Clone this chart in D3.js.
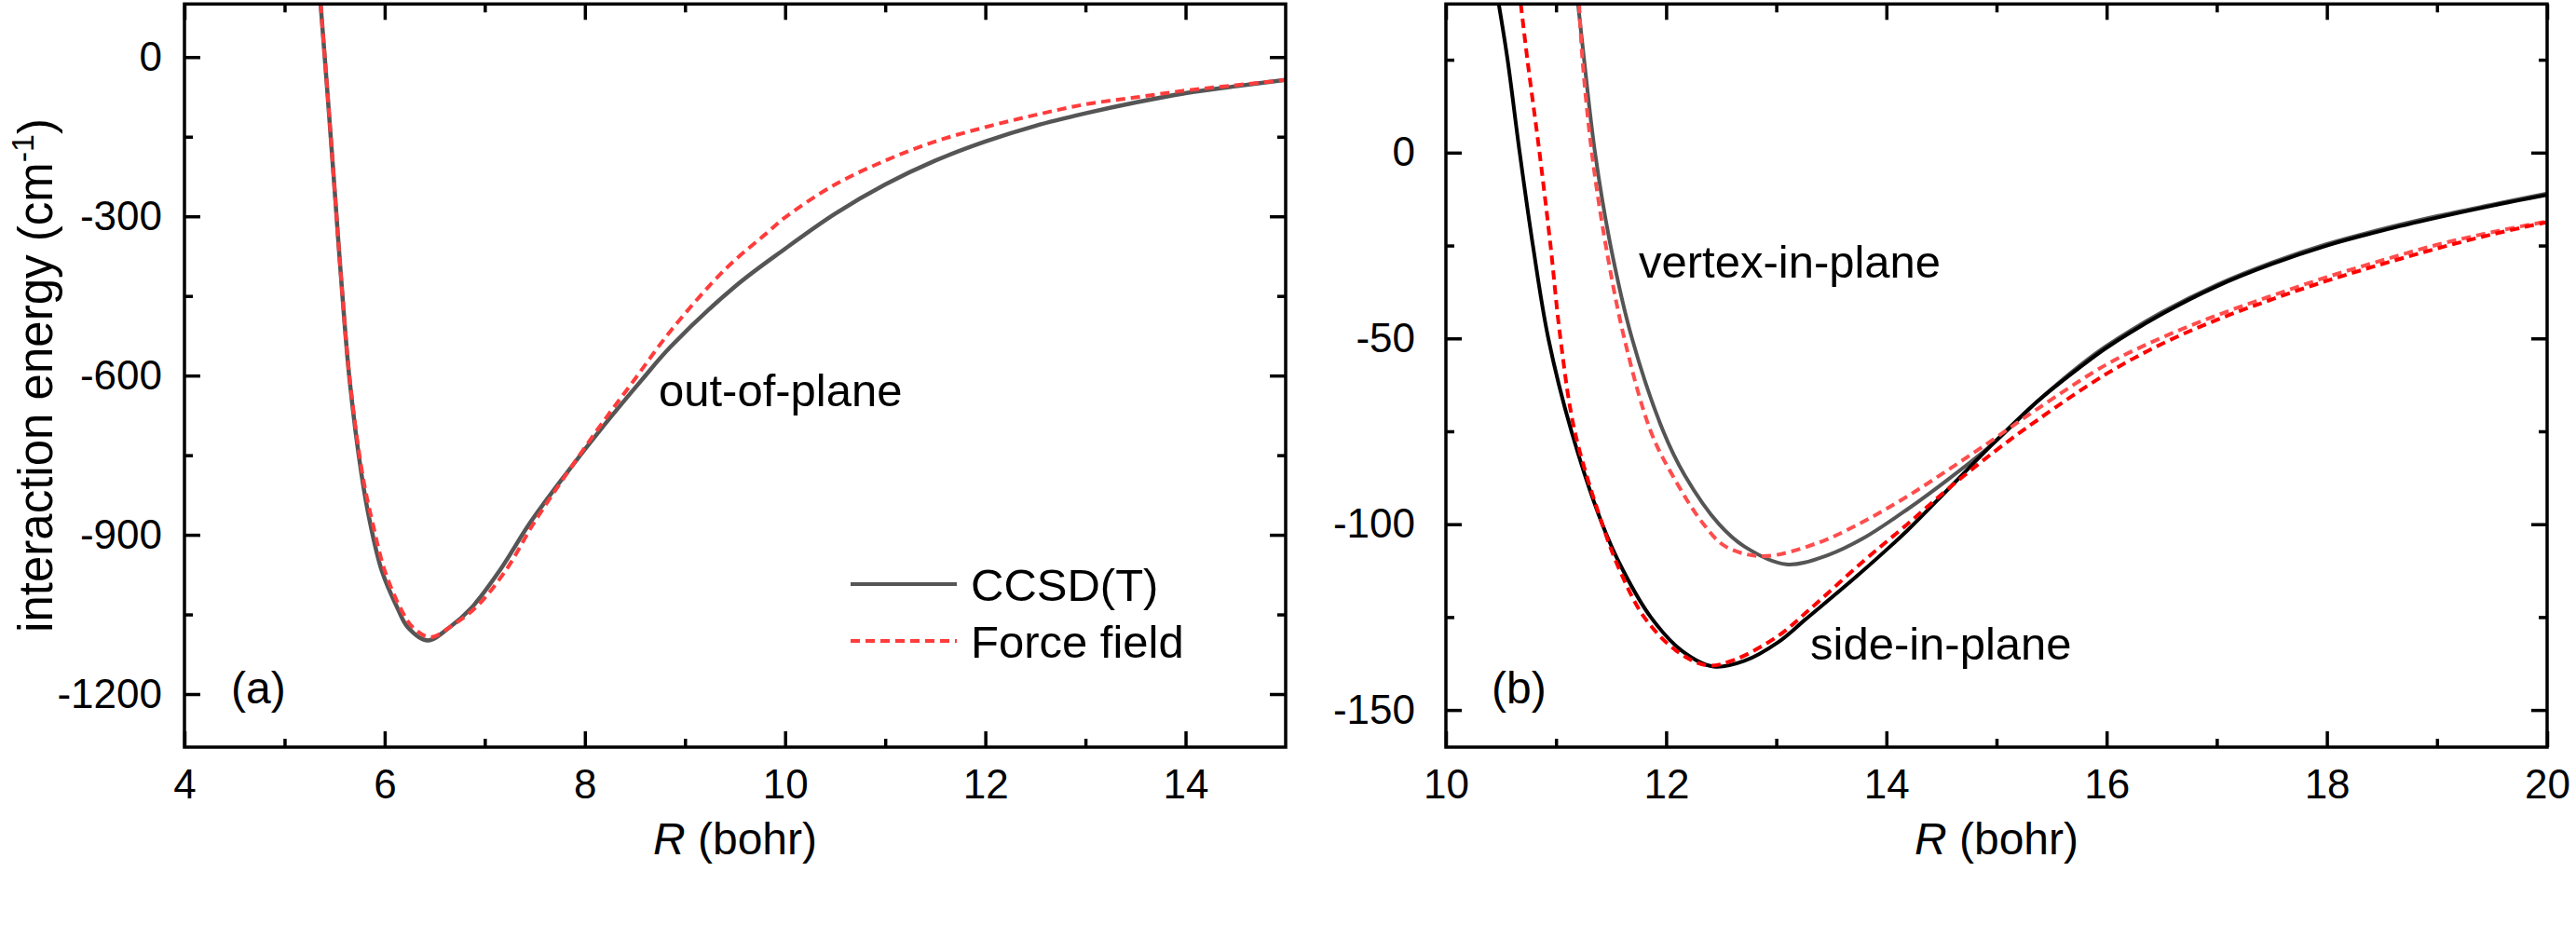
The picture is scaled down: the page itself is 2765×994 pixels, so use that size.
<!DOCTYPE html>
<html>
<head>
<meta charset="utf-8">
<script src="https://cdn.jsdelivr.net/npm/d3@7"></script>
<style>
  html, body { margin:0; padding:0; background:#fff; }
  svg { display:block; font-family:"Liberation Sans", Arial, sans-serif; }
</style>
</head>
<body>
<div id="chart"></div>
<script>

//////////////////////////////////////////////////////
// DATA  (R in bohr, energy in cm-1)
//////////////////////////////////////////////////////

// (a) out-of-plane
const outR_cc = [5.36,5.43,5.50,5.57,5.65,5.77,5.855,5.97,6.13,6.23,6.43,6.65,6.86,7.15,7.45,7.80,8.19,8.56,8.86,9.5,10.0,10.5,11,11.5,12,12.5,13,13.5,14,14.5,15];
const outE_cc = [100,-71.5,-250,-430,-609,-788,-878,-967,-1039,-1074,-1099,-1074,-1039,-967,-878,-788,-694,-610,-545,-432,-361,-295,-240,-195,-159,-129.5,-106,-85.6,-68,-55,-43];

const outR_ff = [5.36,5.43,5.50,5.57,5.65,5.78,5.88,6.0,6.16,6.28,6.46,6.68,6.92,7.21,7.49,7.80,8.14,8.49,8.86,9.4,9.82,10,10.5,11,11.5,12,12.5,13,13.5,14,14.5,15];
const outE_ff = [100,-70,-250,-430,-605,-788,-878,-967,-1039,-1074,-1093,-1070,-1035,-967,-878,-790,-698,-609,-515,-400,-331,-302,-240,-195,-159,-132,-109,-89,-76,-63,-53,-43];

// (b) side-in-plane
const sideR_cc = [10.48,10.56,10.67,10.79,10.93,11.14,11.42,11.61,11.86,12.14,12.43,12.71,13.02,13.27,13.75,14.19,14.58,14.98,15.37,15.77,16.0,16.5,17.0,17.5,18.0,18.5,19.0,19.5,20.0];
const sideE_cc = [40,25,0,-25,-50,-75,-100,-112.5,-125,-134,-138.3,-136.8,-131.7,-125.5,-113.5,-101.7,-90,-78,-67,-57.5,-52.5,-43.5,-36,-30,-25,-21,-17.5,-14.3,-11.4];

const sideR_ff = [10.68,10.74,10.85,10.95,11.04,11.17,11.42,11.58,11.80,12.09,12.37,12.62,13.02,13.30,13.79,14.19,14.58,14.98,15.37,16.0,16.5,17.0,17.5,18.0,18.5,19.0,19.5,20.0];
const sideE_ff = [40,25,0,-25,-50,-75,-100,-112.5,-125,-134,-138,-136.5,-130,-123,-110,-100,-90,-80.5,-72,-59.5,-51.5,-45,-39.5,-34.5,-30,-25.8,-22,-18.7];

// (b) vertex-in-plane
const vertR_cc = [11.20,11.255,11.354,11.495,11.69,11.974,12.17,12.48,12.71,13.09,13.47,13.79,14.19,14.58,14.98,15.37,15.77,16.0,16.5,17.0,17.5,18.0,18.5,19.0,19.5,20.0];
const vertE_cc = [40,25,0,-25,-50,-75,-86.9,-100,-106,-110.8,-108.3,-103.8,-96,-87.5,-78,-67,-57,-52,-43,-35.6,-29.6,-24.6,-20.6,-17.1,-14,-11];

const vertR_ff = [11.21,11.24,11.325,11.452,11.62,11.86,12.06,12.34,12.54,12.88,13.38,13.81,14.19,14.58,14.98,15.37,16.0,16.5,17.0,17.5,18.0,18.5,19.0,19.5,20.0];
const vertE_ff = [40,25,0,-25,-50,-75,-87,-100,-106,-108.6,-105,-99,-92.5,-85,-77,-69,-57,-49.8,-43.8,-38.5,-33.5,-29,-24.8,-21.4,-18.5];

// ticks
const aXMajor = [4,6,8,10,12,14];
const aXMinor = [5,7,9,11,13];
const aYMajor = [0,-300,-600,-900,-1200];
const aYMinor = [-150,-450,-750,-1050];

const bXMajor = [10,12,14,16,18,20];
const bXMinor = [11,13,15,17,19];
const bYMajor = [0,-50,-100,-150];
const bYMinor = [25,-25,-75,-125];

const legendNames = ["CCSD(T)", "Force field"];

//////////////////////////////////////////////////////
// SETUP
//////////////////////////////////////////////////////

const width = 2765;
const height = 994;

const svg = d3.select("#chart")
    .append("svg")
    .attr("width", width)
    .attr("height", height);

svg.append("rect").attr("width",width).attr("height",height).attr("fill","#fff");

const toPts = (rs, es) => rs.map((r,i) => [r, es[i]]);

const GRAY = "#555555";
const RED_A = "#ff3c3c";

//////////////////////////////////////////////////////
// PANEL
//////////////////////////////////////////////////////

function drawPanel(p){

    const x = d3.scaleLinear().domain(p.xDomain).range([p.left, p.right]);
    const y = d3.scaleLinear().domain(p.yDomain).range([p.bottom, p.top]);

    const g = svg.append("g");

    const clipId = "clip-" + p.id;
    svg.append("clipPath").attr("id", clipId)
        .append("rect")
        .attr("x", p.left).attr("y", p.top)
        .attr("width", p.right-p.left).attr("height", p.bottom-p.top);

    // curves
    const line = d3.line()
        .x(d => x(d[0]))
        .y(d => y(d[1]))
        .curve(d3.curveCatmullRom.alpha(0.5));

    const lines = g.append("g").attr("clip-path", `url(#${clipId})`);

    p.series.forEach(s => {
        lines.append("path")
            .datum(s.pts)
            .attr("d", line)
            .attr("fill","none")
            .attr("stroke", s.color)
            .attr("stroke-width", s.w)
            .attr("stroke-dasharray", s.dash || null);
    });

    // axes
    const fmt = d => String(d);

    function axis(fn, scale, values, size, pad, labels, tr){
        const ax = fn(scale)
            .tickValues(values)
            .tickSizeInner(-size)
            .tickSizeOuter(0)
            .tickPadding(pad)
            .tickFormat(labels ? fmt : () => "");
        const a = g.append("g").attr("transform", tr).call(ax);
        a.select(".domain").remove();
        a.selectAll("line").attr("stroke","#000").attr("stroke-width",3.5);
        a.selectAll("text")
            .attr("fill","#000")
            .style("font-family",'"Liberation Sans", Arial, sans-serif')
            .style("font-size","44px");
    }

    axis(d3.axisBottom, x, p.xMajor, 17, 24, true,  `translate(0,${p.bottom})`);
    axis(d3.axisBottom, x, p.xMinor, 9, 24, false,  `translate(0,${p.bottom})`);
    axis(d3.axisTop,    x, p.xMajor, 17, 24, false, `translate(0,${p.top})`);
    axis(d3.axisTop,    x, p.xMinor, 9, 24, false,  `translate(0,${p.top})`);
    axis(d3.axisLeft,   y, p.yMajor, 17, p.yPad, true,  `translate(${p.left},0)`);
    axis(d3.axisLeft,   y, p.yMinor, 9, p.yPad, false,  `translate(${p.left},0)`);
    axis(d3.axisRight,  y, p.yMajor, 17, 24, false, `translate(${p.right},0)`);
    axis(d3.axisRight,  y, p.yMinor, 9, 24, false,  `translate(${p.right},0)`);

    // frame
    g.append("rect")
        .attr("x", p.left).attr("y", p.top)
        .attr("width", p.right-p.left).attr("height", p.bottom-p.top)
        .attr("fill","none")
        .attr("stroke","#000")
        .attr("stroke-width",3.5);

    // x title
    const xt = g.append("text")
        .attr("x", (p.left+p.right)/2)
        .attr("y", 917)
        .attr("text-anchor","middle")
        .style("font-size","48px");
    xt.append("tspan").style("font-style","italic").text("R");
    xt.append("tspan").text(" (bohr)");

    // panel letter + annotations
    p.notes.forEach(n => {
        g.append("text")
            .attr("x", n.x).attr("y", n.y)
            .style("font-size", n.size + "px")
            .text(n.text);
    });

    return {x, y, g};
}

//////////////////////////////////////////////////////
// PANEL (a)
//////////////////////////////////////////////////////

const pa = drawPanel({
    id: "a",
    left: 198, right: 1380, top: 4.3, bottom: 802,
    xDomain: [4,15], yDomain: [-1300,100],
    xMajor: aXMajor, xMinor: aXMinor, yMajor: aYMajor, yMinor: aYMinor,
    yPad: 24,
    series: [
        {pts: toPts(outR_cc, outE_cc), color: GRAY, w: 4.5},
        {pts: toPts(outR_ff, outE_ff), color: RED_A, w: 4, dash: "10,6"}
    ],
    notes: [
        {text: "out-of-plane", x: 707, y: 436, size: 49},
        {text: "(a)", x: 248, y: 755, size: 48}
    ]
});

// legend
const leg = pa.g.append("g");
[{y: 627, color: GRAY, dash: null}, {y: 688, color: RED_A, dash: "10,6"}].forEach((d,i) => {
    leg.append("line")
        .attr("x1", 913).attr("x2", 1027)
        .attr("y1", d.y).attr("y2", d.y)
        .attr("stroke", d.color)
        .attr("stroke-width", 4)
        .attr("stroke-dasharray", d.dash);
    leg.append("text")
        .attr("x", 1042).attr("y", d.y + 17.5)
        .style("font-size","49px")
        .text(legendNames[i]);
});

// y title
const yt = svg.append("text")
    .attr("transform","translate(56,403) rotate(-90)")
    .attr("text-anchor","middle")
    .style("font-size","51px");
yt.append("tspan").text("interaction energy (cm");
yt.append("tspan").attr("dy",-20).style("font-size","34px").text("-1");
yt.append("tspan").attr("dy",20).text(")");

//////////////////////////////////////////////////////
// PANEL (b)
//////////////////////////////////////////////////////

drawPanel({
    id: "b",
    left: 1552, right: 2734, top: 4.3, bottom: 802,
    xDomain: [10,20], yDomain: [-160,40],
    xMajor: bXMajor, xMinor: bXMinor, yMajor: bYMajor, yMinor: bYMinor,
    yPad: 33,
    series: [
        {pts: toPts(vertR_cc, vertE_cc), color: GRAY, w: 4},
        {pts: toPts(sideR_cc, sideE_cc), color: "#000", w: 4},
        {pts: toPts(vertR_ff, vertE_ff), color: "#ff4d4d", w: 4, dash: "10,6"},
        {pts: toPts(sideR_ff, sideE_ff), color: "#ff0000", w: 4, dash: "10,6"}
    ],
    notes: [
        {text: "vertex-in-plane", x: 1759, y: 298, size: 49},
        {text: "side-in-plane", x: 1943, y: 708, size: 49},
        {text: "(b)", x: 1601, y: 755, size: 48}
    ]
});

</script>
</body>
</html>
